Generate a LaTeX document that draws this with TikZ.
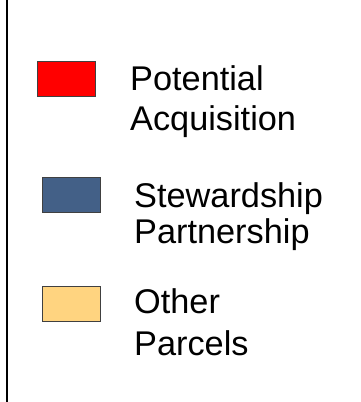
\documentclass[tikz,border=0pt]{standalone}
\usepackage{fontspec}
\setmainfont{Liberation Sans}
\usetikzlibrary{positioning}

\definecolor{acqred}{HTML}{FF0000}
\definecolor{stewblue}{HTML}{436087}
\definecolor{otheryellow}{HTML}{FFD480}

\tikzset{
  swatch/.style={draw=black!75, line width=0.8pt, minimum width=58pt, minimum height=35pt, inner sep=0pt, anchor=north west},
  legtext/.style={anchor=base west, inner sep=0pt, font=\fontsize{34.3}{40}\selectfont}
}

\begin{document}
\begin{tikzpicture}[x=1pt,y=-1pt]
\useasboundingbox (0,0) rectangle (360,402);

\draw[line width=2pt] (7,0) -- (7,402);

% legend entries
\node[swatch, fill=acqred] (acq) at (37,61) {};
\node[legtext] (acqa) at (130,90) {Potential};
\node[legtext, below=40pt of acqa.base west, anchor=base west] (acqb) {Acquisition};

\node[swatch, fill=stewblue] (stew) at (42,177) {};
\node[legtext] (stewa) at (134,207) {Stewardship};
\node[legtext, below=36.5pt of stewa.base west, anchor=base west] (stewb) {Partnership};

\node[swatch, fill=otheryellow] (other) at (42,286) {};
\node[legtext] (othera) at (134,313) {Other};
\node[legtext, below=42pt of othera.base west, anchor=base west] (otherb) {Parcels};
\end{tikzpicture}
\end{document}
